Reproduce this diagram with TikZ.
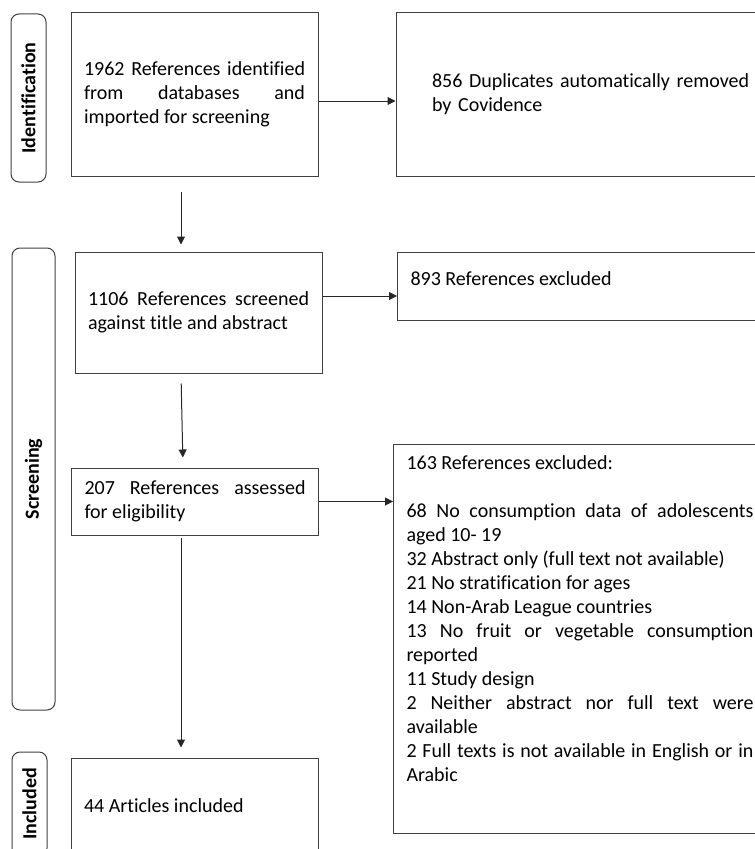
\documentclass[tikz,border=0pt]{standalone}
\usepackage{fontspec}
\setmainfont{Carlito}[Ligatures=NoCommon]
\usetikzlibrary{arrows.meta}
\hyphenpenalty=10000
\exhyphenpenalty=10000

\begin{document}
\begin{tikzpicture}[x=0.75pt, y=-0.75pt,
  box/.style={draw=black!75, line width=0.75pt, inner xsep=9.75pt, inner ysep=0pt,
    text width=165.75pt, align=justify, font=\fontsize{15}{18}\selectfont},
  sidebox/.style={draw=black!75, line width=0.75pt, rounded corners=6pt, rotate=90,
    inner sep=0pt, font=\fontsize{15}{18}\selectfont\bfseries},
  arr/.style={draw=black!85, line width=0.75pt, -{Triangle[length=6pt, width=6pt]}}]
\useasboundingbox (0,0) rectangle (755,849);
\clip (0,0) rectangle (755,849);

% stage labels
\node[sidebox, minimum width=126pt, minimum height=26.25pt] (idlab) at (28.5,98) {Identification};
\node[sidebox, minimum width=346.5pt, minimum height=32.25pt] (scrlab) at (33.5,479) {Screening};
\node[sidebox, minimum width=78pt, minimum height=26.25pt] (inclab) at (29.5,804) {Included};

% main column
\node[box, minimum height=122.25pt] (id1) at (194.5,94.5) {1962 References identified\linebreak from databases and\linebreak imported for screening};
\node[box, minimum height=90.75pt] (scr1) at (198.5,312.5) {1106 References screened\linebreak against title and abstract};
\node[box, minimum height=50.25pt] (scr2) at (195,501.5) {207 References assessed\linebreak for eligibility};
\node[box, minimum height=72pt] (inc1) at (194.5,806) {44 Articles included};

% right column
\node[box, text width=240pt, inner xsep=27pt, align=left, minimum height=122.25pt] (excl1) at (592,94.5) {856 Duplicates automatically removed\\ by Covidence};
\node[box, anchor=north west, text width=265.5pt, text height=24.75pt, text depth=26.25pt] (excl2) at (397,252) {893 References excluded};
\node[box, anchor=north west, text width=260.25pt, text height=18.75pt, text depth=273pt] (excl3) at (393,444) {163 References excluded:\\[18pt]
68 No consumption data of adolescents\linebreak aged 10- 19\\
32 Abstract only (full text not available)\\
21 No stratification for ages\\
14 Non-Arab League countries\\
13 No fruit or vegetable consumption\linebreak reported\\
11 Study design\\
2 Neither abstract nor full text were\linebreak available\\
2 Full texts is not available in English or in\linebreak Arabic};

\coordinate (col) at (181,0);
\coordinate (col2) at (183,0);
\coordinate (row2) at (0,296);

\draw[arr, shorten <=11.25pt, shorten >=5.25pt] (id1.south -| col) -- (scr1.north -| col);
\draw[arr, shorten <=7.5pt, shorten >=7.5pt] (scr1.south -| col) -- (scr2.north -| col2);
\draw[arr, shorten <=1.5pt, shorten >=7.5pt] (scr2.south -| col) -- (inc1.north -| col);

\draw[arr] ([yshift=-4.875pt]id1.east) -- ([yshift=-4.875pt]excl1.west);
\draw[arr] (scr1.east |- row2) -- (excl2.west |- row2);
\draw[arr] (scr2.east) -- (scr2.east -| excl3.west);
\end{tikzpicture}
\end{document}
